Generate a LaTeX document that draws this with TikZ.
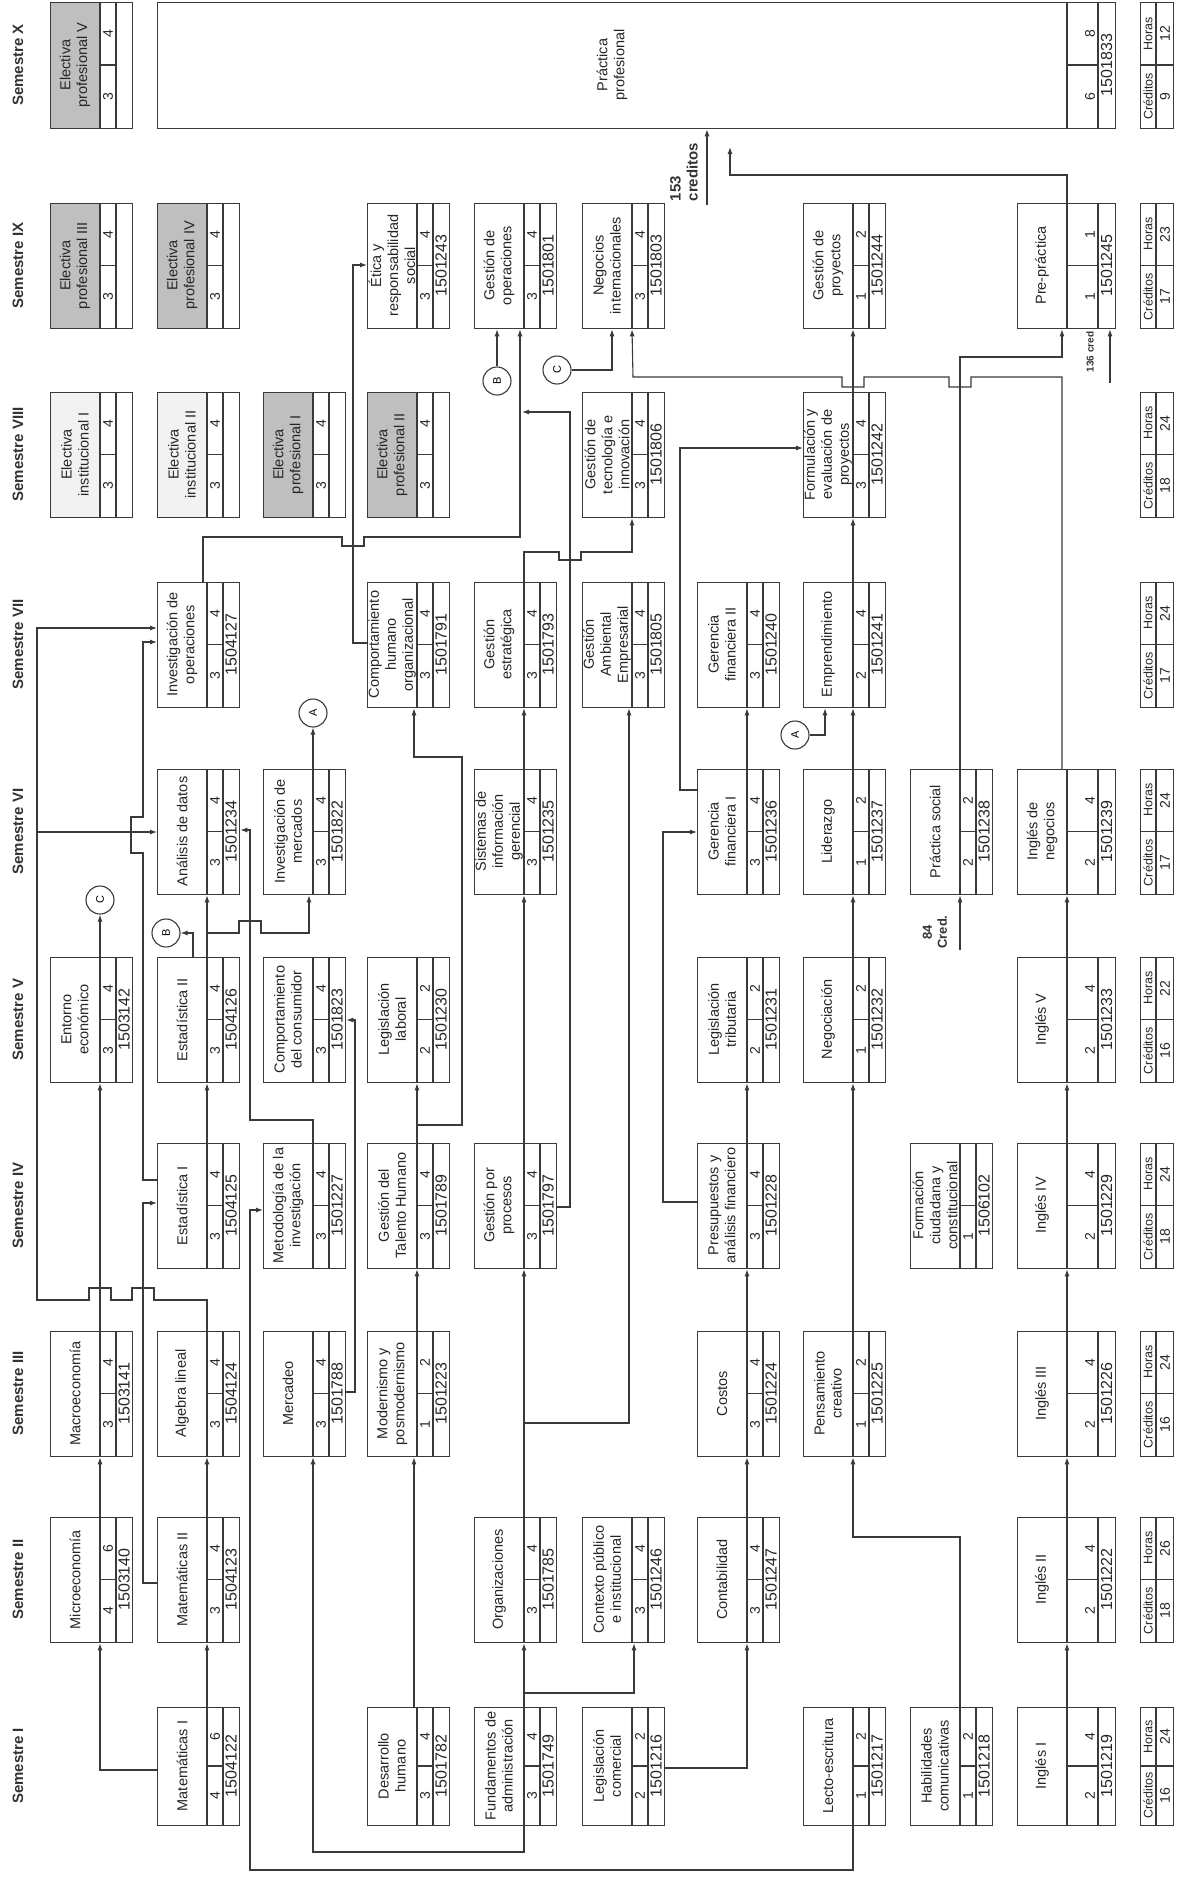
\documentclass[tikz,border=0pt]{standalone}
\usepackage{graphicx}
\usepackage{fontspec}
\setmainfont{Liberation Sans}
\usetikzlibrary{arrows.meta}
\definecolor{lc}{HTML}{3A3A3A}
\tikzset{
 boxn/.style={draw=lc, line width=1.3pt, inner sep=0pt},
 boxl/.style={draw=lc, line width=1.1pt},
 ttl/.style={rotate=90, align=center, inner sep=0pt, font=\fontsize{14.5}{17}\selectfont, text=black!85},
 num/.style={rotate=90, inner sep=0pt, font=\fontsize{14}{14}\selectfont, text=black!85},
 cod/.style={rotate=90, inner sep=0pt, font=\fontsize{16}{16}\selectfont, text=black!85},
 crt/.style={rotate=90, inner sep=0pt, font=\fontsize{12.5}{12.5}\selectfont, text=black!85},
 crn/.style={rotate=90, inner sep=0pt, font=\fontsize{14}{14}\selectfont, text=black!85},
 sem/.style={rotate=90, inner sep=0pt, font=\bfseries\fontsize{15}{15}\selectfont, text=black!80},
 arr/.style={draw=lc, line width=1.1pt, -{Latex[length=7pt,width=5pt]}},
 ln/.style={draw=lc, line width=1.1pt},
 circ/.style={circle, draw=lc, line width=1.1pt, minimum size=28pt, inner sep=0pt, font=\fontsize{11}{11}\selectfont},
 lbl/.style={rotate=90, inner sep=0pt, font=\bfseries\fontsize{15}{17}\selectfont, text=black!80},
}
\newcommand\setnrm{\def\bw{82}\def\sa{16}\def\sb{16}}
\newcommand\setwid{\def\bw{98}\def\sa{31}\def\sb{17}}
% id, x, y, title, c1, c2, code, fill
\newcommand\crs[8]{%
 \pgfmathsetmacro\xa{#2}%
 \pgfmathsetmacro\xd{#2+\bw-\sa-\sb}%
 \pgfmathsetmacro\xe{#2+\bw-\sb}%
 \pgfmathsetmacro\xf{#2+\bw}%
 \pgfmathsetmacro\yb{#3+\bh}%
 \pgfmathsetmacro\ym{#3+\bh/2}%
 \fill[#8] (\xa,#3) rectangle (\xd,\yb);
 \node[boxn, minimum width=\bw, minimum height=\bh, anchor=north west] (#1) at (\xa,#3) {};
 \draw[boxl] (\xd,#3) -- (\xd,\yb) (\xe,#3) -- (\xe,\yb) (\xd,\ym) -- (\xe,\ym);
 \node[ttl] at ({(\xa+\xd)/2},\ym) {#4};
 \node[num] at (\xe-8,{\ym+\bh/4}) {#5};
 \node[num] at (\xe-8,{\ym-\bh/4}) {#6};
 \node[cod] at ({(\xe+\xf)/2},\ym) {#7};
 \coordinate (#1d) at (\xd,\ym);
}
\newcommand\credbox[4]{%
 \pgfmathsetmacro\yb{#2+\bh}%
 \pgfmathsetmacro\ym{#2+\bh/2}%
 \node[boxn, minimum width=33, minimum height=\bh, anchor=north west] (#1) at (1140,#2) {};
 \draw[boxl] (1156,#2) -- (1156,\yb) (1140,\ym) -- (1173,\ym);
 \node[crt] at (1148,{\ym+\bh/4}) {Créditos};
 \node[crt] at (1148,{\ym-\bh/4}) {Horas};
 \node[crn] at (1165,{\ym+\bh/4}) {#3};
 \node[crn] at (1165,{\ym-\bh/4}) {#4};
}
\newcommand\semlbl[3]{\node[sem] (#1) at (18,{#2+\bh/2}) {#3};}
\begin{document}
\begin{tikzpicture}[x=1pt,y=-1pt]
\fill[white] (0,0) rectangle (1180,1877);
\useasboundingbox (0,0) rectangle (1180,1877);

% ---------- Semestre I ----------
\def\bh{118}\setnrm
\crs{mat1}{157}{1707}{Matemáticas I}{4}{6}{1504122}{white}
\crs{deshum}{367}{1707}{Desarrollo\\humano}{3}{4}{1501782}{white}
\crs{fund}{474}{1707}{Fundamentos de\\administración}{3}{4}{1501749}{white}
\crs{legcom}{582}{1707}{Legislación\\comercial}{2}{2}{1501216}{white}
\crs{lecto}{803}{1707}{Lecto-escritura}{1}{2}{1501217}{white}
\crs{habcom}{910}{1707}{Habilidades\\comunicativas}{1}{2}{1501218}{white}
\setwid\crs{ing1}{1017}{1707}{Inglés I}{2}{4}{1501219}{white}
\credbox{cr1}{1707}{16}{24}
\semlbl{s1}{1707}{Semestre I}

% ---------- Semestre II ----------
\def\bh{125}\setnrm
\crs{micro}{50}{1517}{Microeconomía}{4}{6}{1503140}{white}
\crs{mat2}{157}{1517}{Matemáticas II}{3}{4}{1504123}{white}
\crs{org}{474}{1517}{Organizaciones}{3}{4}{1501785}{white}
\crs{ctxpub}{582}{1517}{Contexto público\\e institucional}{3}{4}{1501246}{white}
\crs{conta}{697}{1517}{Contabilidad}{3}{4}{1501247}{white}
\setwid\crs{ing2}{1017}{1517}{Inglés II}{2}{4}{1501222}{white}
\credbox{cr2}{1517}{18}{26}
\semlbl{s2}{1517}{Semestre II}

% ---------- Semestre III ----------
\setnrm
\crs{macro}{50}{1331}{Macroeconomía}{3}{4}{1503141}{white}
\crs{alg}{157}{1331}{Algebra lineal}{3}{4}{1504124}{white}
\crs{merc}{263}{1331}{Mercadeo}{3}{4}{1501788}{white}
\crs{moder}{367}{1331}{Modernismo y\\posmodernismo}{1}{2}{1501223}{white}
\crs{costos}{697}{1331}{Costos}{3}{4}{1501224}{white}
\crs{pens}{803}{1331}{Pensamiento\\creativo}{1}{2}{1501225}{white}
\setwid\crs{ing3}{1017}{1331}{Inglés III}{2}{4}{1501226}{white}
\credbox{cr3}{1331}{16}{24}
\semlbl{s3}{1331}{Semestre III}

% ---------- Semestre IV ----------
\setnrm
\crs{est1}{157}{1143}{Estadística I}{3}{4}{1504125}{white}
\crs{metod}{263}{1143}{Metodología de la\\investigación}{3}{4}{1501227}{white}
\crs{talento}{367}{1143}{Gestión del\\Talento Humano}{3}{4}{1501789}{white}
\crs{gproc}{474}{1143}{Gestión por\\procesos}{3}{4}{1501797}{white}
\crs{presup}{697}{1143}{Presupuestos y\\análisis financiero}{3}{4}{1501228}{white}
\crs{formc}{910}{1143}{Formación\\ciudadana y\\constitucional}{1}{}{1506102}{white}
\setwid\crs{ing4}{1017}{1143}{Inglés IV}{2}{4}{1501229}{white}
\credbox{cr4}{1143}{18}{24}
\semlbl{s4}{1143}{Semestre IV}

% ---------- Semestre V ----------
\setnrm
\crs{entorno}{50}{957}{Entorno\\económico}{3}{4}{1503142}{white}
\crs{est2}{157}{957}{Estadística II}{3}{4}{1504126}{white}
\crs{compcons}{263}{957}{Comportamiento\\del consumidor}{3}{4}{1501823}{white}
\crs{leglab}{367}{957}{Legislación\\laboral}{2}{2}{1501230}{white}
\crs{legtrib}{697}{957}{Legislación\\tributaria}{2}{2}{1501231}{white}
\crs{negoc}{803}{957}{Negociación}{1}{2}{1501232}{white}
\setwid\crs{ing5}{1017}{957}{Inglés V}{2}{4}{1501233}{white}
\credbox{cr5}{957}{16}{22}
\semlbl{s5}{957}{Semestre V}

% ---------- Semestre VI ----------
\setnrm
\crs{anal}{157}{769}{Análisis de datos}{3}{4}{1501234}{white}
\crs{invmerc}{263}{769}{Investigación de\\mercados}{3}{4}{1501822}{white}
\crs{sig}{474}{769}{Sistemas de\\información\\gerencial}{3}{4}{1501235}{white}
\crs{gfin1}{697}{769}{Gerencia\\financiera I}{3}{4}{1501236}{white}
\crs{lider}{803}{769}{Liderazgo}{1}{2}{1501237}{white}
\crs{practsoc}{910}{769}{Práctica social}{2}{2}{1501238}{white}
\setwid\crs{ingneg}{1017}{769}{Inglés de\\negocios}{2}{4}{1501239}{white}
\credbox{cr6}{769}{17}{24}
\semlbl{s6}{769}{Semestre VI}

% ---------- Semestre VII ----------
\setnrm
\crs{invop}{157}{582}{Investigación de\\operaciones}{3}{4}{1504127}{white}
\crs{comphum}{367}{582}{Comportamiento\\humano\\organizacional}{3}{4}{1501791}{white}
\crs{gestr}{474}{582}{Gestión\\estratégica}{3}{4}{1501793}{white}
\crs{gamb}{582}{582}{Gestión\\Ambiental\\Empresarial}{3}{4}{1501805}{white}
\crs{gfin2}{697}{582}{Gerencia\\financiera II}{3}{4}{1501240}{white}
\crs{empr}{803}{582}{Emprendimiento}{2}{4}{1501241}{white}
\credbox{cr7}{582}{17}{24}
\semlbl{s7}{582}{Semestre VII}

% ---------- Semestre VIII ----------
\crs{einst1}{50}{392}{Electiva\\institucional I}{3}{4}{}{gray!10}
\crs{einst2}{157}{392}{Electiva\\institucional II}{3}{4}{}{gray!10}
\crs{eprof1}{263}{392}{Electiva\\profesional I}{3}{4}{}{gray!50}
\crs{eprof2}{367}{392}{Electiva\\profesional II}{3}{4}{}{gray!50}
\crs{gtec}{582}{392}{Gestión de\\tecnología e\\innovación}{3}{4}{1501806}{white}
\crs{formul}{803}{392}{Formulación y\\evaluación de\\proyectos}{3}{4}{1501242}{white}
\credbox{cr8}{392}{18}{24}
\semlbl{s8}{392}{Semestre VIII}

% ---------- Semestre IX ----------
\crs{eprof3}{50}{203}{Electiva\\profesional III}{3}{4}{}{gray!50}
\crs{eprof4}{157}{203}{Electiva\\profesional IV}{3}{4}{}{gray!50}
\crs{etica}{367}{203}{Ética y\\responsabilidad\\social}{3}{4}{1501243}{white}
\crs{gop}{474}{203}{Gestión de\\operaciones}{3}{4}{1501801}{white}
\crs{negint}{582}{203}{Negocios\\internacionales}{3}{4}{1501803}{white}
\crs{gproy}{803}{203}{Gestión de\\proyectos}{1}{2}{1501244}{white}
\setwid\crs{prepr}{1017}{203}{Pre-práctica}{1}{1}{1501245}{white}
\credbox{cr9}{203}{17}{23}
\semlbl{s9}{203}{Semestre IX}

% ---------- Semestre X ----------
\def\bh{126}\setnrm
\crs{eprof5}{50}{2}{Electiva\\profesional V}{3}{4}{}{gray!50}
\def\bw{958}\def\sa{31}\def\sb{17}
\crs{practprof}{157}{2}{Práctica\\profesional}{6}{8}{1501833}{white}
\credbox{cr10}{2}{9}{12}
\semlbl{s10}{2}{Semestre X}

% ---------- connector circles ----------
\node[circ] (A1) at (313,713) {\rotatebox{90}{A}};
\node[circ] (A2) at (795,735) {\rotatebox{90}{A}};
\node[circ] (B1) at (166,933) {\rotatebox{90}{B}};
\node[circ] (B2) at (497,381) {\rotatebox{90}{B}};
\node[circ] (C1) at (100,900) {\rotatebox{90}{C}};
\node[circ] (C2) at (557,370) {\rotatebox{90}{C}};

% ---------- labels ----------
\node[lbl, align=left] (l153) at (684,172) {153\\creditos};
\node[lbl, font=\bfseries\fontsize{10}{10}\selectfont] (l136) at (1090,352) {136 cred};
\node[lbl, align=center, font=\bfseries\fontsize{13}{15}\selectfont] (l84) at (935,932) {84\\Cred.};
\coordinate (c153) at (707,205);
\coordinate (c136) at (1110,383);
\coordinate (c84) at (960,950);

% ---------- connectors ----------
% mathematics / economics
\draw[arr] (mat1.west |- 0,1770) -| (micro.south -| microd);
\draw[arr] (mat1.north -| mat1d) -- (mat2.south -| mat1d);
\draw[arr] (micro.north -| microd) -- (macro.south -| microd);
\draw[arr] (mat2.north -| mat2d) -- (alg.south -| mat2d);
\draw[arr] (mat2.west |- 0,1583) -- (143,1583) -- (143,1203) -- (est1.west |- 0,1203);
\draw[arr] (alg.north -| algd) -- (207,1300) -- (154,1300) -- (154,1288) -- (132,1288) -- (132,1300)
   -- (111,1300) -- (111,1288) -- (89,1288) -- (89,1300) -- (37,1300) -- (37,628) -- (invop.west |- 0,628);
\draw[arr] (37,832) -- (anal.west |- 0,832);
\draw[arr] (macro.north -| macrod) -- (entorno.south -| macrod);
\draw[arr] (entorno.north -| entornod) -- (C1.south);
\draw[arr] (est1.north -| est1d) -- (est2.south -| est1d);
\draw[arr] (est1.west |- 0,1180) -- (143,1180) -- (143,853) -- (131,853) -- (131,817) -- (143,817) -- (143,642) -- (invop.west |- 0,642);
\draw[arr] (est2.north -| 193,0) -- (193,933) -- (B1.east);
\draw[arr] (est2.north -| est2d) -- (anal.south -| est2d);
\draw[arr] (207,933) -- (239,933) -- (239,921) -- (261,921) -- (261,933) -- (309,933) -- (invmerc.south -| 309,0);
\draw[arr] (metod.north -| metodd) -- (313,1120) -- (250,1120) -- (250,830) -- (anal.east |- 0,830);
\draw[arr] (merc.east |- 0,1392) -- (355,1392) -- (355,1020) -- (compcons.east |- 0,1020);
\draw[arr] (lecto.south -| lectod) -- (853,1870) -- (250,1870) -- (250,1210) -- (metod.west |- 0,1210);
\draw[arr] (fund.south -| fundd) -- (524,1852) -- (313,1852) -- (merc.south -| mercd);
\draw[arr] (fund.north -| fundd) -- (org.south -| fundd);
\draw[arr] (524,1693) -- (634,1693) -- (ctxpub.south -| 634,0);
\draw[arr] (invmerc.north -| invmercd) -- (A1.south);
\draw[arr] (invop.north -| 203,0) -- (203,537) -- (342,537) -- (342,546) -- (364,546) -- (364,537) -- (520,537) -- (gop.south -| 520,0);
% human / organisation
\draw[arr] (deshum.north -| 414,0) -- (moder.south -| 414,0);
\draw[arr] (moder.north -| moderd) -- (talento.south -| moderd);
\draw[arr] (talento.north -| talentod) -- (leglab.south -| talentod);
\draw[arr] (417,1125) -- (462,1125) -- (462,757) -- (414,757) -- (comphum.south -| 414,0);
\draw[arr] (comphum.west |- 0,643) -- (353,643) -- (353,265) -- (etica.west |- 0,265);
\draw[arr] (org.north -| orgd) -- (gproc.south -| orgd);
\draw[arr] (524,1423) -- (629,1423) -- (gamb.south -| 629,0);
\draw[arr] (gproc.north -| gprocd) -- (sig.south -| gprocd);
\draw[arr] (sig.north -| sigd) -- (gestr.south -| sigd);
\draw[arr] (gestr.north -| gestrd) -- (524,552) -- (559,552) -- (559,560) -- (581,560) -- (581,552) -- (632,552) -- (gtec.south -| gtecd);
\draw[arr] (gproc.east |- 0,1207) -- (570,1207) -- (570,412) -- (522,412);
\draw[arr] (B2.north) -- (gop.south -| B2.north);
\draw[arr] (C2.east) -- (612,370) -- (negint.south -| 612,0);
% finance
\draw[arr] (legcom.east |- 0,1768) -| (conta.south -| contad);
\draw[arr] (conta.north -| contad) -- (costos.south -| contad);
\draw[arr] (costos.north -| costosd) -- (presup.south -| costosd);
\draw[arr] (presup.north -| presupd) -- (legtrib.south -| presupd);
\draw[arr] (presup.west |- 0,1202) -- (663,1202) -- (663,832) -- (gfin1.west |- 0,832);
\draw[arr] (gfin1.north -| gfin1d) -- (gfin2.south -| gfin1d);
\draw[arr] (gfin1.west |- 0,790) -- (680,790) -- (680,448) -- (formul.west |- 0,448);
% communication / entrepreneurship
\draw[arr] (habcom.north -| habcomd) -- (960,1537) -- (853,1537) -- (pens.south -| pensd);
\draw[arr] (pens.north -| pensd) -- (negoc.south -| pensd);
\draw[arr] (negoc.north -| negocd) -- (lider.south -| negocd);
\draw[arr] (lider.north -| liderd) -- (empr.south -| liderd);
\draw[arr] (empr.north -| emprd) -- (formul.south -| emprd);
\draw[arr] (formul.north -| formuld) -- (gproy.south -| formuld);
\draw[arr] (A2.east) -- (825,735) -- (empr.south -| 825,0);
% English
\draw[arr] (ing1.north -| ing1d) -- (ing2.south -| ing1d);
\draw[arr] (ing2.north -| ing2d) -- (ing3.south -| ing2d);
\draw[arr] (ing3.north -| ing3d) -- (ing4.south -| ing3d);
\draw[arr] (ing4.north -| ing4d) -- (ing5.south -| ing4d);
\draw[arr] (ing5.north -| ing5d) -- (ingneg.south -| ing5d);
\draw[arr] (ingneg.north -| 1062,0) -- (1062,377) -- (971,377) -- (971,387) -- (949,387) -- (949,377)
   -- (864,377) -- (864,387) -- (842,387) -- (842,377) -- (633,377) -- (negint.south -| negintd);
% practice
\draw[arr] (practsoc.north -| practsocd) -- (960,357) -- (1062,357) -- (prepr.south -| 1062,0);
\draw[arr] (c84) -- (practsoc.south -| c84);
\draw[arr] (c136) -- (prepr.south -| c136);
\draw[arr] (prepr.north -| preprd) -- (1067,175) -- (730,175) -- (730,147);
\draw[arr] (c153) -- (practprof.south -| c153);
\end{tikzpicture}
\end{document}
